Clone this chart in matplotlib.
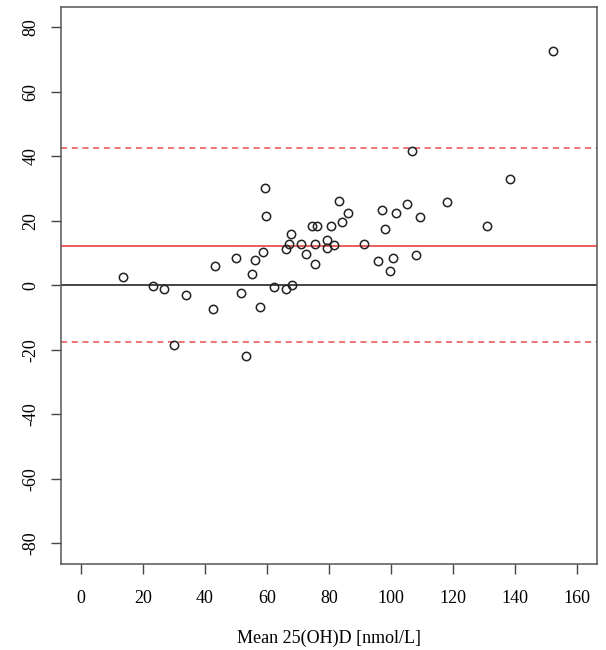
import numpy as np
import matplotlib.pyplot as plt

# Bland-Altman data
mean_vals = [13.6, 23.4, 26.7, 29.9, 33.9, 42.7, 43.4, 50.2, 51.7, 53.4,
             55.1, 56.2, 57.7, 58.8, 59.3, 59.7, 62.4, 66.3, 68.1, 66.1,
             67.0, 67.8, 71.0, 72.5, 74.6, 76.1, 75.4, 75.4, 79.4, 79.4,
             80.6, 81.7, 83.2, 84.3, 86.3, 91.4, 96.0, 97.2, 98.2, 99.6,
             100.6, 101.6, 105.2, 106.9, 108.2, 109.3, 118.0, 131.0, 138.4, 152.4]
diff_vals = [2.6, -0.1, -1.1, -18.5, -3.0, -7.2, 5.9, 8.6, -2.4, -22.0,
             3.4, 7.9, -6.7, 10.3, 30.2, 21.5, -0.5, -1.1, 0.1, 11.2,
             12.9, 16.0, 12.7, 9.7, 18.3, 18.4, 12.8, 6.5, 14.0, 11.6,
             18.3, 12.6, 26.3, 19.5, 22.5, 12.8, 7.7, 23.4, 17.5, 4.6,
             8.6, 22.5, 25.3, 41.8, 9.4, 21.2, 25.9, 18.4, 33.0, 72.8]

bias = 12.35
upper_loa = 42.5
lower_loa = -17.7

x_ticks = np.arange(0, 161, 20)
y_ticks = np.arange(-80, 81, 20)

plt.rcParams['font.family'] = ['Liberation Serif', 'DejaVu Serif']
plt.rcParams['axes.unicode_minus'] = False

fig = plt.figure(figsize=(6.06, 6.5), dpi=100)
ax = fig.add_axes([61 / 606, 1 - 564 / 650, (596.7 - 61) / 606, (564 - 6.7) / 650])

ax.axhline(0, color='#444444', lw=1.4, zorder=1)
ax.axhline(bias, color='#e8504f', lw=1.3, zorder=1)
ax.axhline(upper_loa, color='#e8504f', lw=1.1, ls=(0, (4, 3)), zorder=1)
ax.axhline(lower_loa, color='#e8504f', lw=1.1, ls=(0, (4, 3)), zorder=1)

ax.plot(mean_vals, diff_vals, 'o', mfc='none', mec='#222222', ms=6, mew=1.1, zorder=2)

ax.set_xlim(-6.4, 166.4)
ax.set_ylim(-86.4, 86.4)
ax.set_xticks(x_ticks)
ax.set_yticks(y_ticks)
ax.set_yticklabels([str(v) for v in y_ticks], rotation=90, va='center')
ax.tick_params(direction='out', length=7.5, width=1, color='#444444', labelsize=13)
ax.tick_params(axis='x', pad=11.5)
ax.tick_params(axis='y', pad=8)
for s in ax.spines.values():
    s.set_color('#555555')
    s.set_linewidth(1.1)

ax.set_xlabel('Mean 25(OH)D [nmol/L]', fontsize=13, labelpad=16)

fig.savefig('out.png', dpi=100)
